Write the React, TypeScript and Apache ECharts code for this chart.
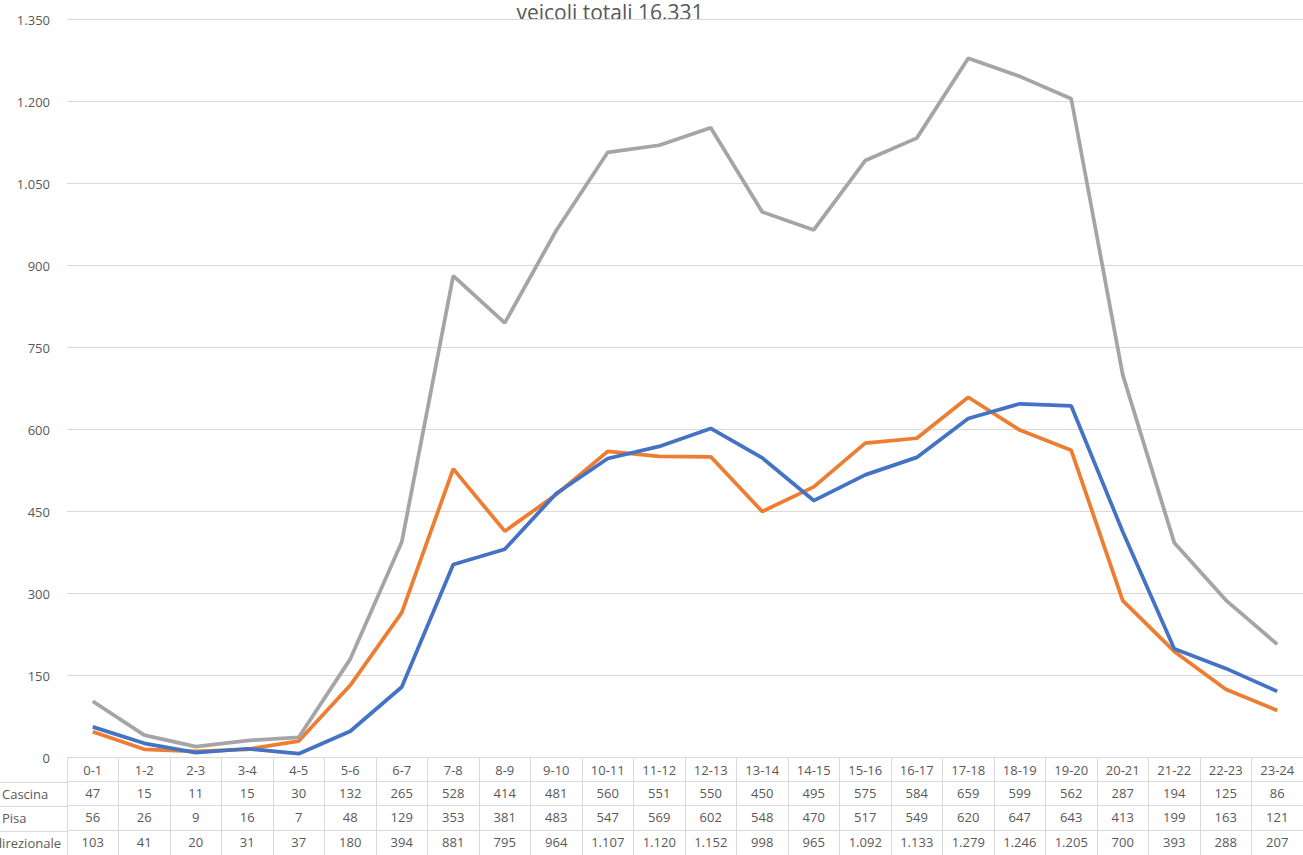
import React, { useEffect, useRef } from "react";
import * as echarts from "echarts";

const categories = ["0-1","1-2","2-3","3-4","4-5","5-6","6-7","7-8","8-9","9-10","10-11","11-12","12-13","13-14","14-15","15-16","16-17","17-18","18-19","19-20","20-21","21-22","22-23","23-24"];
const cascina = [47,15,11,15,30,132,265,528,414,481,560,551,550,450,495,575,584,659,599,562,287,194,125,86];
const pisa = [56,26,9,16,7,48,129,353,381,483,547,569,602,548,470,517,549,620,647,643,413,199,163,121];
const bidirezionale = [103,41,20,31,37,180,394,881,795,964,1107,1120,1152,998,965,1092,1133,1279,1246,1205,700,393,288,207];
const seriesNames = ["Cascina", "Pisa", "Bidirezionale"];
const titleText = "veicoli totali 16.331";
const yTicks = { min: 0, max: 1350, interval: 150 };

const fmt = (v: number) => String(v).replace(/\B(?=(\d{3})+(?!\d))/g, ".");

const TXT = "#595959";
const GRID = "#D9D9D9";
const FONT = "'Open Sans', 'Noto Sans', sans-serif";
const COLORS = ["#ED7D31", "#4472C4", "#A5A5A5"];

export default function App() {
  const ref = useRef<HTMLDivElement>(null);
  useEffect(() => {
    if (!ref.current) return;
    const chart = echarts.init(ref.current, null, { renderer: "svg" });
    const rows = [cascina, pisa, bidirezionale];
    const rowOffsets = [24, 48, 73];
    const rowLineYs = [782, 806, 831];
    const rowCenters = [794, 818, 843];
    const baseX = {
      type: "category" as const,
      gridIndex: 0,
      position: "bottom" as const,
      boundaryGap: true,
    };
    const xAxes: any[] = [
      {
        ...baseX,
        data: categories,
        offset: 0,
        axisLine: { show: true, lineStyle: { color: GRID, width: 1 } },
        axisTick: { show: true, interval: 0, length: 100, lineStyle: { color: GRID, width: 1 } },
        axisLabel: { interval: 0, margin: 6, color: TXT, fontSize: 13, fontFamily: FONT },
        splitLine: { show: false },
      },
      ...rows.map((r, i) => ({
        ...baseX,
        data: r.map(fmt),
        offset: rowOffsets[i],
        axisLine: { show: true, lineStyle: { color: GRID, width: 1 } },
        axisTick: { show: false },
        axisLabel: { interval: 0, margin: 5, color: TXT, fontSize: 13, fontFamily: FONT },
        splitLine: { show: false },
      })),
    ];
    const graphic: any[] = [
      {
        type: "text",
        x: 610,
        y: 1,
        style: { text: titleText, fill: TXT, fontSize: 21, fontFamily: FONT, textAlign: "center", textVerticalAlign: "top" },
      },
      ...rowLineYs.map((y) => ({
        type: "line",
        shape: { x1: 0, y1: y + 0.5, x2: 67, y2: y + 0.5 },
        style: { stroke: GRID, lineWidth: 1 },
      })),
      ...seriesNames.map((n, i) => ({
        type: "text",
        x: i === 2 ? 61 : 2,
        y: rowCenters[i],
        style: { text: n, fill: TXT, fontSize: 13, fontFamily: FONT, textAlign: i === 2 ? "right" : "left", textVerticalAlign: "middle" },
      })),
    ];
    chart.setOption({
      animation: false,
      backgroundColor: "#fff",
      textStyle: { fontFamily: FONT },
      grid: { left: 67, right: 0, top: 19.5, bottom: 97.5, containLabel: false },
      xAxis: xAxes,
      yAxis: {
        type: "value",
        min: yTicks.min,
        max: yTicks.max,
        interval: yTicks.interval,
        axisLine: { show: false },
        axisTick: { show: false },
        axisLabel: { color: TXT, fontSize: 13, fontFamily: FONT, margin: 17, formatter: (v: number) => fmt(v) },
        splitLine: { lineStyle: { color: GRID, width: 1 } },
      },
      graphic,
      series: rows.map((r, i) => ({
        name: seriesNames[i],
        type: "line",
        xAxisIndex: 0,
        data: r,
        symbol: "none",
        lineStyle: { color: COLORS[i], width: 3.75 },
        itemStyle: { color: COLORS[i] },
      })),
    });
    return () => chart.dispose();
  }, []);
  return (
    <div
      ref={ref}
      style={{ position: "fixed", left: 0, top: 0, width: 1303, height: 855, background: "#fff" }}
    />
  );
}
